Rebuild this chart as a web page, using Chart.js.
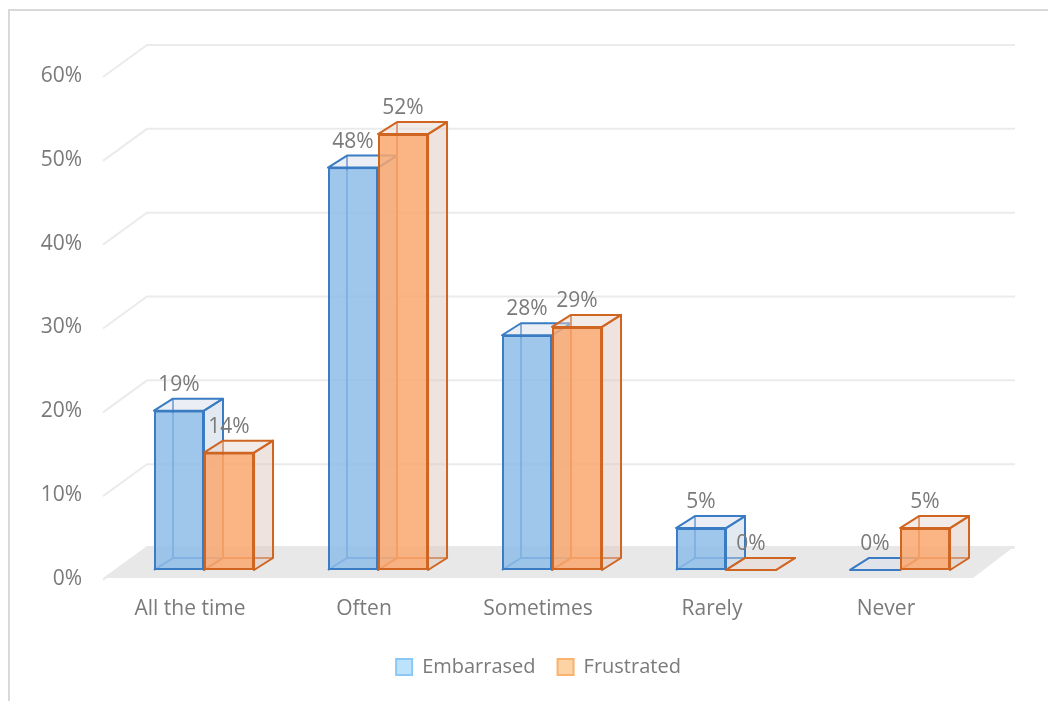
<!DOCTYPE html>
<html lang="en">
<head>
    <meta charset="UTF-8">
    <title>Embarrassed vs Frustrated</title>
    <script src="https://cdn.jsdelivr.net/npm/chart.js"></script>
    <style>
        body {
            margin: 0;
            padding: 0;
            background-color: #ffffff;
            overflow: hidden;
        }

        .frame {
            position: absolute;
            left: 8px;
            top: 9px;
            width: 1200px;
            height: 900px;
            border: 2px solid #d9d9d9;
        }

        .chart-box {
            position: absolute;
            left: 0;
            top: 0;
            width: 1048px;
            height: 701px;
        }
    </style>
</head>
<body>
    <div class="frame"></div>
    <div class="chart-box">
        <canvas id="barChart" width="1048" height="701"></canvas>
    </div>

    <script>
        const categories = ['All the time', 'Often', 'Sometimes', 'Rarely', 'Never'];
        const embarrasedValues = [19, 48, 28, 5, 0];
        const frustratedValues = [14, 52, 29, 0, 5];
        const yTicks = [0, 10, 20, 30, 40, 50, 60];

        const textGrey = '#7a7a7a';
        const depthX = 19;
        const depthY = -12;

        // colours per series: front face, edge, side face, top face, legend box
        const looks = [
            {
                face: 'rgba(142, 188, 232, 0.85)',
                edge: '#3a7cc3',
                side: 'rgba(200, 212, 228, 0.5)',
                top: 'rgba(215, 224, 236, 0.5)',
                boxFill: '#bde3fc',
                boxLine: '#8cc8f6'
            },
            {
                face: 'rgba(250, 168, 112, 0.85)',
                edge: '#cf6520',
                side: 'rgba(222, 200, 190, 0.5)',
                top: 'rgba(232, 216, 208, 0.5)',
                boxFill: '#fdd3a6',
                boxLine: '#fab26d'
            }
        ];

        function line(ctx, pts) {
            ctx.beginPath();
            ctx.moveTo(pts[0][0], pts[0][1]);
            for (let i = 1; i < pts.length; i++) ctx.lineTo(pts[i][0], pts[i][1]);
        }

        const boxPlugin = {
            id: 'box3d',
            // the legend sits a bit right of centre in the original
            afterLayout(chart) {
                chart.legend.left += 45;
                chart.legend.right += 45;
            },
            beforeDatasetsDraw(chart) {
                const ctx = chart.ctx;
                const area = chart.chartArea;
                const y = chart.scales.y;
                ctx.save();

                // back wall gridlines and floor
                ctx.strokeStyle = '#ebebeb';
                ctx.lineWidth = 2;
                yTicks.forEach(v => {
                    const p = y.getPixelForValue(v);
                    line(ctx, [[area.left - 14, p + 10], [area.left + 30, p - 22], [area.right + 28, p - 22]]);
                    ctx.stroke();
                });
                const p0 = y.getPixelForValue(0);
                ctx.fillStyle = '#e8e8e8';
                line(ctx, [[area.left - 14, p0 + 8], [area.left + 30, p0 - 24], [area.right + 28, p0 - 24], [area.right - 14, p0 + 8]]);
                ctx.closePath();
                ctx.fill();

                // hidden edges, side and top faces; front faces come from the bars
                ctx.lineWidth = 2;
                ctx.lineJoin = 'round';
                categories.forEach((c, i) => {
                    [0, 1].forEach(d => {
                        const look = looks[d];
                        const b = chart.getDatasetMeta(d).data[i].getProps(['x', 'y', 'base', 'width'], true);
                        const L = b.x - b.width / 2, R = b.x + b.width / 2;
                        const T = b.y, B = b.base;
                        ctx.strokeStyle = look.edge;
                        line(ctx, [[L, B], [L + depthX, B + depthY], [R + depthX, B + depthY]]);
                        ctx.stroke();
                        line(ctx, [[L + depthX, B + depthY], [L + depthX, T + depthY]]);
                        ctx.stroke();

                        ctx.fillStyle = look.side;
                        line(ctx, [[R, T], [R + depthX, T + depthY], [R + depthX, B + depthY], [R, B]]);
                        ctx.closePath();
                        ctx.fill();
                        ctx.stroke();
                        ctx.fillStyle = look.top;
                        line(ctx, [[L, T], [R, T], [R + depthX, T + depthY], [L + depthX, T + depthY]]);
                        ctx.closePath();
                        ctx.fill();
                        ctx.stroke();
                    });
                });
                ctx.restore();
            },
            // value labels
            afterDatasetsDraw(chart) {
                const ctx = chart.ctx;
                ctx.save();
                ctx.fillStyle = textGrey;
                ctx.font = '21px "Open Sans"';
                ctx.textAlign = 'center';
                ctx.textBaseline = 'middle';
                chart.data.datasets.forEach((ds, d) => {
                    chart.getDatasetMeta(d).data.forEach((bar, i) => {
                        ctx.fillText(ds.data[i] + '%', bar.x, bar.y - 26);
                    });
                });
                ctx.restore();
            }
        };

        const ctx = document.getElementById('barChart').getContext('2d');
        const chart = new Chart(ctx, {
            type: 'bar',
            data: {
                labels: categories,
                datasets: [{
                    label: 'Embarrased',
                    data: embarrasedValues,
                    backgroundColor: looks[0].face,
                    borderColor: looks[0].edge,
                    borderWidth: 2,
                    borderSkipped: false
                },
                {
                    label: 'Frustrated',
                    data: frustratedValues,
                    backgroundColor: looks[1].face,
                    borderColor: looks[1].edge,
                    borderWidth: 2,
                    borderSkipped: false
                }]
            },
            options: {
                responsive: false,
                animation: false,
                categoryPercentage: 0.575,
                barPercentage: 1,
                layout: {
                    padding: { top: 67, right: 61, left: 0, bottom: 14 }
                },
                scales: {
                    x: {
                        grid: { display: false, drawTicks: false },
                        border: { display: false },
                        ticks: {
                            color: textGrey,
                            font: { family: 'Open Sans', size: 21 },
                            padding: 26,
                            labelOffset: -14,
                            maxRotation: 0
                        },
                        afterFit(scale) { scale.height = 65; }
                    },
                    y: {
                        min: 0,
                        max: 60,
                        grid: { display: false, drawTicks: false },
                        border: { display: false },
                        ticks: {
                            stepSize: 10,
                            color: textGrey,
                            font: { family: 'Open Sans', size: 21 },
                            padding: 35,
                            labelOffset: 9,
                            callback: v => v + '%'
                        },
                        afterFit(scale) { scale.width = 117; }
                    }
                },
                plugins: {
                    tooltip: { enabled: false },
                    legend: {
                        position: 'bottom',
                        labels: {
                            color: textGrey,
                            font: { family: 'Open Sans', size: 20 },
                            boxWidth: 16,
                            boxHeight: 16,
                            padding: 22,
                            generateLabels(c) {
                                return c.data.datasets.map((ds, i) => ({
                                    text: ds.label,
                                    fillStyle: looks[i].boxFill,
                                    strokeStyle: looks[i].boxLine,
                                    lineWidth: 2,
                                    fontColor: textGrey,
                                    datasetIndex: i
                                }));
                            }
                        }
                    }
                }
            },
            plugins: [boxPlugin]
        });
    </script>
</body>
</html>
